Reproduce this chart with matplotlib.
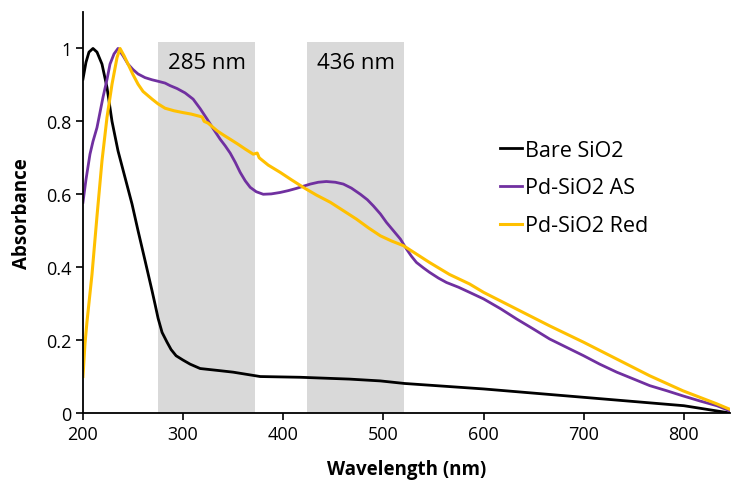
import numpy as np
import matplotlib
matplotlib.use("Agg")
import matplotlib.pyplot as plt
from matplotlib.ticker import FuncFormatter

plt.rcParams['font.family'] = ['Open Sans', 'DejaVu Sans']

# UV-vis spectra (wavelength nm, absorbance)
bare_wl = [200, 203, 206, 210, 214, 219, 224, 229, 235, 242, 249, 255, 262, 269,
           272, 275, 279, 284, 288, 293, 300, 307, 317, 337, 350, 377, 417, 466, 497,
           521, 600, 700, 800, 846]
bare_abs = [0.916, 0.962, 0.99, 1.0, 0.99, 0.957, 0.893, 0.80, 0.719, 0.646, 0.573,
            0.50, 0.418, 0.335, 0.298, 0.26, 0.221, 0.194, 0.174, 0.157, 0.145,
            0.134, 0.122, 0.116, 0.112, 0.10, 0.098, 0.093, 0.088, 0.081, 0.066, 0.043,
            0.02, 0.0]

as_wl = [200, 203, 207, 210, 214, 220, 224, 227, 231, 235, 240, 245, 250, 255, 262,
         269, 275, 282, 287, 294, 302, 310, 317, 324, 330, 337, 342,
         347, 352, 357, 362, 367, 373, 380, 388, 397, 405, 413, 420, 427, 435, 443,
         452, 460, 468, 477, 484, 490, 497, 503, 510, 517, 523, 528, 533, 540, 546,
         555, 563, 575, 586, 600, 617, 633, 650, 666, 683, 700, 716, 733, 750, 766,
         783, 799, 816, 833, 846]
as_abs = [0.578, 0.64, 0.71, 0.745, 0.783, 0.866, 0.915, 0.957, 0.985, 1.0, 0.98,
          0.957, 0.942, 0.93, 0.92, 0.914, 0.91, 0.905, 0.898,
          0.89, 0.878, 0.861, 0.835, 0.806, 0.78, 0.751, 0.733, 0.713, 0.688, 0.66,
          0.637, 0.619, 0.607, 0.60, 0.601, 0.605, 0.61, 0.616, 0.622, 0.628, 0.633,
          0.635, 0.633, 0.628, 0.617, 0.60, 0.585, 0.568, 0.546, 0.523, 0.50, 0.477,
          0.45, 0.43, 0.413, 0.398, 0.386, 0.37, 0.358, 0.345, 0.331, 0.313, 0.286,
          0.258, 0.23, 0.203, 0.18, 0.157, 0.134, 0.112, 0.093, 0.075, 0.061, 0.047,
          0.033, 0.02, 0.006]

red_wl = [200, 202, 204, 209, 214, 219, 224, 229, 234, 237, 241, 245, 250, 255, 260,
          269, 275, 282, 291, 300, 308, 315, 319, 321, 325, 334,
          340, 347, 355, 362, 370, 374, 376, 385, 397, 408, 420, 433, 447, 460, 473,
          485, 497, 508, 520, 533, 546, 566, 586, 600, 633, 666, 700, 733, 766, 799,
          833, 846]
red_abs = [0.10, 0.19, 0.25, 0.38, 0.54, 0.692, 0.811, 0.902, 0.975, 1.0, 0.98, 0.957,
           0.928, 0.902, 0.882, 0.861, 0.848, 0.836, 0.829,
           0.824, 0.82, 0.815, 0.812, 0.80, 0.795, 0.774, 0.763, 0.751, 0.737, 0.724,
           0.71, 0.713, 0.70, 0.68, 0.66, 0.64, 0.619, 0.598, 0.578, 0.555, 0.532,
           0.508, 0.486, 0.472, 0.459, 0.436, 0.413, 0.38, 0.354, 0.331, 0.285, 0.239,
           0.194, 0.148, 0.102, 0.061, 0.025, 0.01]

bands = [(275, 372, "285 nm"), (424, 521, "436 nm")]

fig = plt.figure(figsize=(7.31, 4.85), dpi=100)
ax = fig.add_axes([0.1135, 0.1464, 0.885, 0.8268])

for lo, hi, label in bands:
    ax.fill_between([lo, hi], 0, 1.018, color='#d9d9d9', lw=0, zorder=0)
    ax.text((lo + hi) / 2, 0.962, label, ha='center', va='center', fontsize=16)

ax.plot(bare_wl, bare_abs, color='black', lw=2, label='Bare SiO2')
ax.plot(as_wl, as_abs, color='#7030a0', lw=2, label='Pd-SiO2 AS')
ax.plot(red_wl, red_abs, color='#ffc000', lw=2.2, label='Pd-SiO2 Red')

ax.set_xlim(200, 846)
ax.set_ylim(0, 1.1)
ax.set_xticks(range(200, 801, 100))
ax.set_yticks([0, 0.2, 0.4, 0.6, 0.8, 1.0])
ax.yaxis.set_major_formatter(FuncFormatter(lambda v, p: f"{v:g}"))
ax.tick_params(labelsize=13, length=5, width=1.2, direction='out')
for s in ['top', 'right']:
    ax.spines[s].set_visible(False)
for s in ['left', 'bottom']:
    ax.spines[s].set_linewidth(1.3)

ax.set_xlabel('Wavelength (nm)', fontsize=13.5, fontweight='bold', labelpad=12)
ax.set_ylabel('Absorbance', fontsize=13.5, fontweight='bold', labelpad=10)

ax.legend(loc='upper left', bbox_to_anchor=(0.684, 0.71), bbox_transform=fig.transFigure,
          frameon=False, borderpad=0, borderaxespad=0,
          fontsize=15.5, handlelength=1.0, handletextpad=0.15, labelspacing=0.78)

fig.savefig('out.png', dpi=100)
